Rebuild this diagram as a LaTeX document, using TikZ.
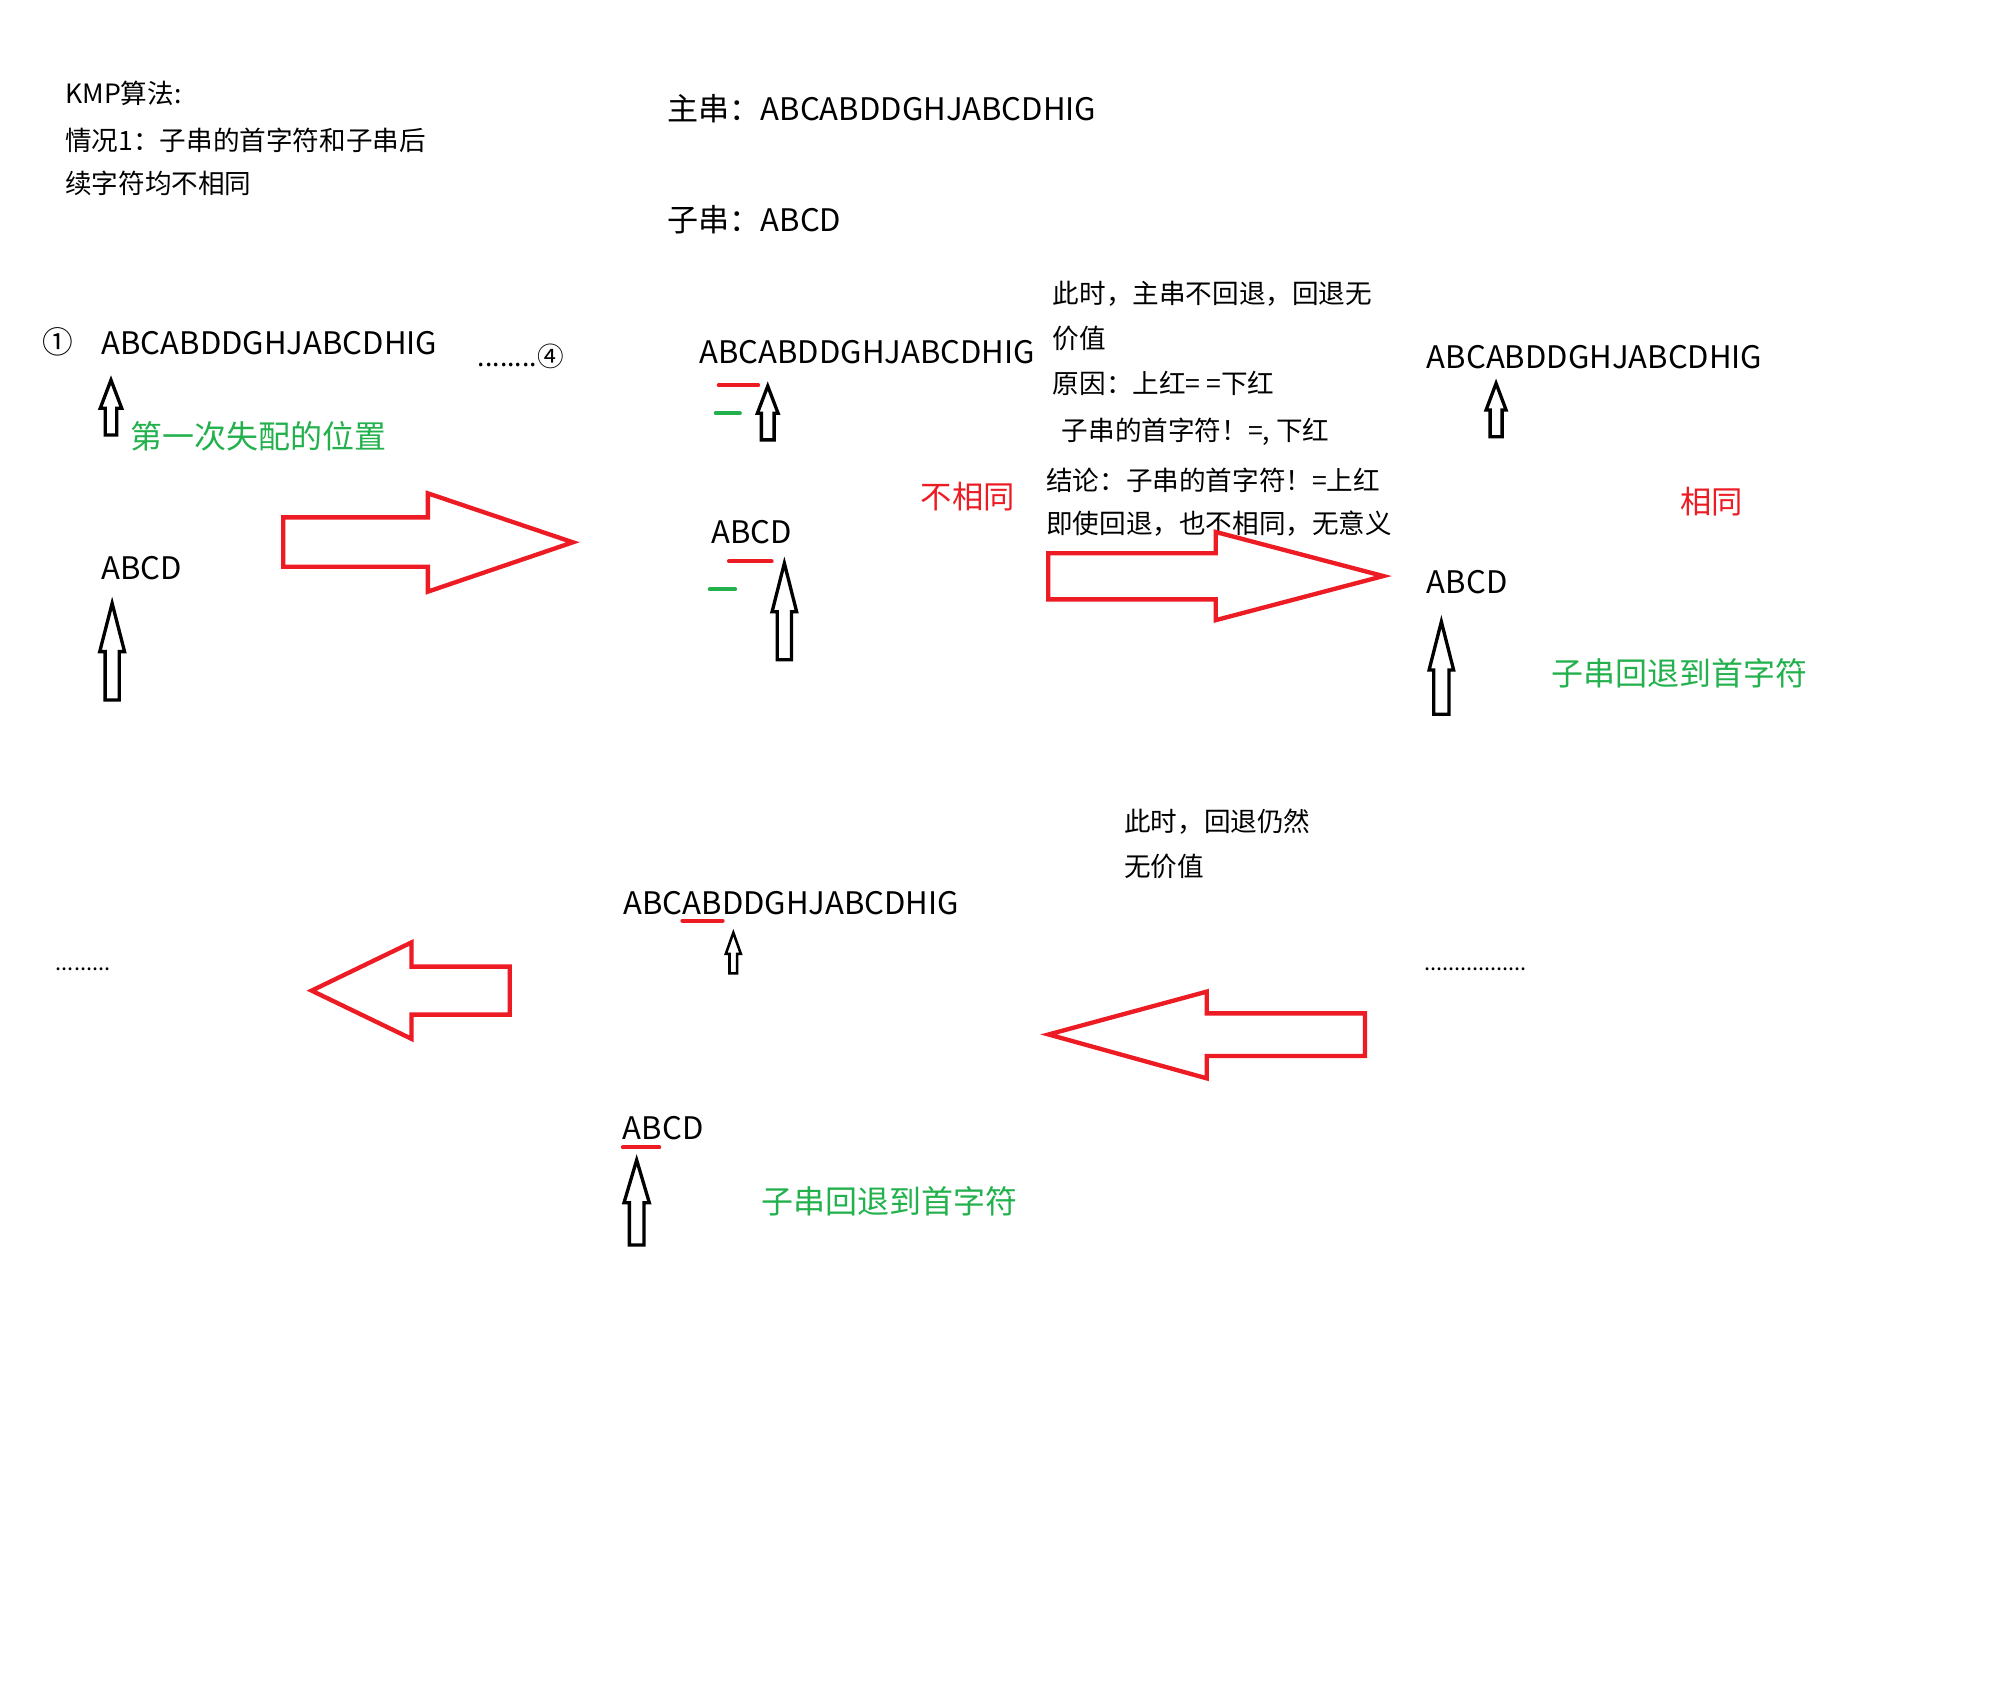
\documentclass[tikz,border=0pt]{standalone}
\usepackage{fontspec}
\setmainfont{Noto Sans CJK SC}
\definecolor{pred}{HTML}{ED1C24}
\definecolor{pgreen}{HTML}{22B14C}
\tikzset{
  txt/.style={anchor=west, inner sep=0pt, font=\fontsize{20.8}{25}\selectfont},
  big/.style={anchor=west, inner sep=0pt, font=\fontsize{24.3}{29}\selectfont},
  dots/.style={anchor=base west, inner sep=0pt, font=\fontsize{17}{20}\selectfont},
  grn/.style={anchor=west, inner sep=0pt, text=pgreen, font=\fontsize{25}{30}\selectfont},
  rd/.style={anchor=west, inner sep=0pt, text=pred, font=\fontsize{24.5}{30}\selectfont},
  blk/.style={draw=black, line width=2.6pt, fill=white},
  blksmall/.style={draw=black, line width=2pt, fill=white},
  redarrow/.style={draw=pred, line width=3.4pt},
  rdash/.style={draw=pred, line width=3pt, line cap=round},
  gdash/.style={draw=pgreen, line width=3pt, line cap=round},
}
% up block arrow: x, tip y, head base y, bottom y, head half width, shaft half width
\newcommand\upblk[7][blk]{\draw[#1] (#2,#3) -- ({#2+#6},#4) -- ({#2+#7},#4) -- ({#2+#7},#5) -- ({#2-#7},#5) -- ({#2-#7},#4) -- ({#2-#6},#4) -- cycle;}
% horizontal red block arrow: back x, top, bottom, neck x, head top, head bottom, tip x, tip y
\newcommand\hblk[8]{\draw[redarrow] (#1,#2) -- (#4,#2) -- (#4,#5) -- (#7,#8) -- (#4,#6) -- (#4,#3) -- (#1,#3) -- cycle;}
\begin{document}
\begin{tikzpicture}[x=1pt,y=-1pt]
\fill[white] (0,0) rectangle (1568,1333);
\useasboundingbox (0,0) rectangle (1568,1333);

% header
\node[txt] (kmp) at (50.9,73) {KMP算法:};
\node[txt] (case1a) at (50.9,109.5) {情况1：子串的首字符和子串后};
\node[txt] (case1b) at (50.9,143.4) {续字符均不相同};
\node[big] (mainstr) at (521.9,84.7) {主串：ABCABDDGHJABCDHIG};
\node[big] (substr) at (521.9,172) {子串：ABCD};

% step 1
\node[anchor=center, inner sep=0pt, font=\fontsize{24}{28}\selectfont] (n1) at (45,267.2) {①};
\node[big] (s1) at (79.3,268.5) {ABCABDDGHJABCDHIG};
\node[txt] (d1) at (373.5,279) {........④};
\upblk{86.8}{297.2}{319.3}{340.2}{8.4}{4.5}
\node[grn] (g1) at (101.9,341.5) {第一次失配的位置};
\node[big] (s2) at (79.3,444.5) {ABCD};
\upblk{87.7}{471.8}{509.6}{547.4}{9.7}{5.5}
\hblk{221.5}{404.6}{443.2}{334.6}{385.8}{462.7}{448}{424.1}

% step 2
\node[big] (s3) at (546.8,275) {ABCABDDGHJABCDHIG};
\draw[rdash] (562,301.3) -- (593,301.3);
\draw[gdash] (559.7,323.2) -- (578.7,323.2);
\upblk{600.4}{301.9}{323.2}{344}{8.1}{5}
\node[big] (s4) at (556,415.8) {ABCD};
\draw[rdash] (570,439) -- (603.5,439);
\draw[gdash] (555,460.9) -- (575,460.9);
\upblk{613.4}{440.5}{478.4}{516}{9.6}{5.6}
\node[rd] (r1) at (720,388.7) {不相同};

\node[txt] (e1) at (823.2,229.4) {此时，主串不回退，回退无};
\node[txt] (e2) at (823.2,264.6) {价值};
\node[txt] (e3) at (823.2,299.8) {原因：上红= =下红};
\node[txt] (e4) at (830.3,337.6) {子串的首字符！=, 下红};
\node[txt] (e5) at (818,375.4) {结论：子串的首字符！=上红};
\node[txt] (e6) at (818,409.3) {即使回退，也不相同，无意义};
\hblk{819.8}{432.7}{468.7}{950.7}{416}{485}{1081.8}{450.5}

% step 3
\node[big] (s5) at (1115.7,278.9) {ABCABDDGHJABCDHIG};
\upblk{1170}{299.8}{320.6}{341.5}{7.8}{4.7}
\node[rd] (r2) at (1313.8,392.3) {相同};
\node[big] (s6) at (1115.7,454.9) {ABCD};
\upblk{1127.2}{486.2}{524}{558.5}{9.6}{6}
\node[grn] (g2) at (1213.5,526.6) {子串回退到首字符};

% bottom row
\node[txt] (f1) at (879,642.6) {此时，回退仍然};
\node[txt] (f2) at (879,677.3) {无价值};
\node[dots] (d3) at (1113.5,759) {.................};
\hblk{1067.5}{792.5}{825.8}{943.7}{775.5}{843.3}{820}{809}

\node[big] (s7) at (487.5,706.4) {ABCABDDGHJABCDHIG};
\draw[rdash] (533.6,720) -- (565.2,720);
\upblk[blksmall]{573.5}{729.4}{746}{761.2}{5.9}{3}
\node[big] (s8) at (487,882.4) {ABCD};
\draw[rdash] (487,897.3) -- (515.6,897.3);
\upblk{497.9}{907.2}{940.6}{973.6}{9.9}{5.7}
\node[grn] (g3) at (595.7,939.8) {子串回退到首字符};

\node[dots] (d2) at (43.5,759) {.........};
\hblk{398.6}{755.9}{793.5}{321.8}{737}{812.4}{243.7}{774.7}
\end{tikzpicture}
\end{document}
